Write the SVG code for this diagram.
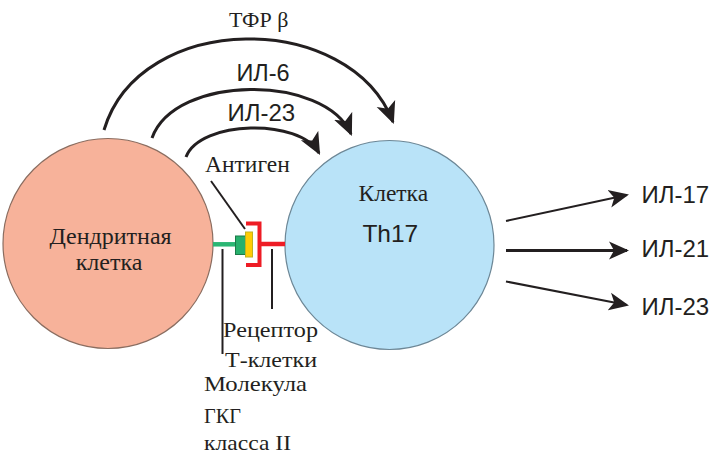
<svg xmlns="http://www.w3.org/2000/svg" width="721" height="463" viewBox="0 0 721 463">
<style>
.serif{font-family:"Liberation Serif","DejaVu Serif",serif;fill:#231f20}
.sans{font-family:"Liberation Sans","DejaVu Sans",sans-serif;fill:#231f20}
.conn{fill:none;stroke:#231f20;stroke-width:3}
.thin{fill:none;stroke:#231f20;stroke-width:2}
.lead{fill:none;stroke:#231f20;stroke-width:2}
.lbl{font-size:21px}
</style>
<defs>
<marker id="ah" viewBox="0 0 20 20" refX="18" refY="10" markerWidth="20" markerHeight="20" markerUnits="userSpaceOnUse" orient="auto">
<path d="M0,1 L20,10 L0,19 L5,10 Z" fill="#231f20"/>
</marker>
<marker id="ah2" viewBox="0 0 20 20" refX="18" refY="10" markerWidth="22" markerHeight="22" markerUnits="userSpaceOnUse" orient="auto">
<path d="M0,1 L20,10 L0,19 L5,10 Z" fill="#231f20"/>
</marker>
</defs>
<rect width="721" height="463" fill="#fff"/>

<g id="dendritic">
<circle cx="108" cy="243.5" r="105" fill="#f7b29a" stroke="#8a6d60" stroke-width="1.2"/>
<text class="serif" x="110.5" y="243.5" font-size="24" text-anchor="middle">Дендритная</text>
<text class="serif" x="109" y="270" font-size="24" text-anchor="middle">клетка</text>
</g>

<g id="th17">
<circle cx="389.5" cy="245" r="104.5" fill="#b9e3f8" stroke="#6d8796" stroke-width="1.2"/>
<text class="serif" x="393.3" y="200.7" font-size="23.5" text-anchor="middle">Клетка</text>
<text class="sans" x="390.3" y="241.7" font-size="24.5" text-anchor="middle">Th17</text>
</g>

<g id="synapse">
<line x1="213" y1="244.3" x2="236" y2="244.3" stroke="#2ab673" stroke-width="4.5"/>
<rect x="235.5" y="236" width="10" height="18.5" fill="#27b06c" stroke="#1b7a48" stroke-width="1"/>
<rect x="245.5" y="232" width="7" height="25" fill="#ffcc05" stroke="#c2b21e" stroke-width="1"/>
<path d="M246,223.5 H259.5 V265 H246" fill="none" stroke="#ee1c25" stroke-width="4"/>
<line x1="259.5" y1="244" x2="285" y2="244" stroke="#ee1c25" stroke-width="4.5"/>
</g>

<g id="connectors">
<path class="conn" d="M104,130 C140,10 350,10 393,122" marker-end="url(#ah2)"/>
<path class="conn" d="M152,138 C175,74 325,74 351,134" marker-end="url(#ah2)"/>
<path class="conn" d="M186,157 C200,120 300,118 319,153" marker-end="url(#ah2)"/>
<line class="thin" x1="506" y1="221" x2="627" y2="195" marker-end="url(#ah)"/>
<line class="conn" x1="506" y1="250.5" x2="627" y2="250.5" stroke-width="4" marker-end="url(#ah)"/>
<line class="thin" x1="506" y1="281.5" x2="627" y2="305" marker-end="url(#ah)"/>
<line class="lead" x1="211" y1="181" x2="245" y2="229" stroke-width="1.5"/>
<line class="lead" x1="222.5" y1="249" x2="222.5" y2="354" stroke-width="2.5"/>
<line class="lead" x1="272" y1="249" x2="272" y2="309" stroke-width="2.5"/>
</g>

<g id="labels">
<text class="serif" x="258.7" y="26.7" font-size="22" text-anchor="middle">ТФР β</text>
<text class="sans" x="263" y="81" font-size="23.5" text-anchor="middle">ИЛ-6</text>
<text class="sans" x="261.3" y="120.7" font-size="24" text-anchor="middle">ИЛ-23</text>
<text class="serif" x="205" y="171.7" font-size="23.5">Антиген</text>
<text class="sans" x="641.5" y="203.3" font-size="24">ИЛ-17</text>
<text class="sans" x="641.5" y="257.3" font-size="24">ИЛ-21</text>
<text class="sans" x="641.5" y="315" font-size="24">ИЛ-23</text>
<text class="serif lbl" x="223" y="337" textLength="95" lengthAdjust="spacingAndGlyphs">Рецептор</text>
<text class="serif lbl" x="225" y="366.7" textLength="92" lengthAdjust="spacingAndGlyphs">Т-клетки</text>
<text class="serif lbl" x="204" y="391" textLength="103" lengthAdjust="spacingAndGlyphs">Молекула</text>
<text class="serif lbl" x="204" y="423.3" textLength="37" lengthAdjust="spacingAndGlyphs">ГКГ</text>
<text class="serif lbl" x="204" y="450" textLength="87" lengthAdjust="spacingAndGlyphs">класса II</text>
</g>
</svg>
